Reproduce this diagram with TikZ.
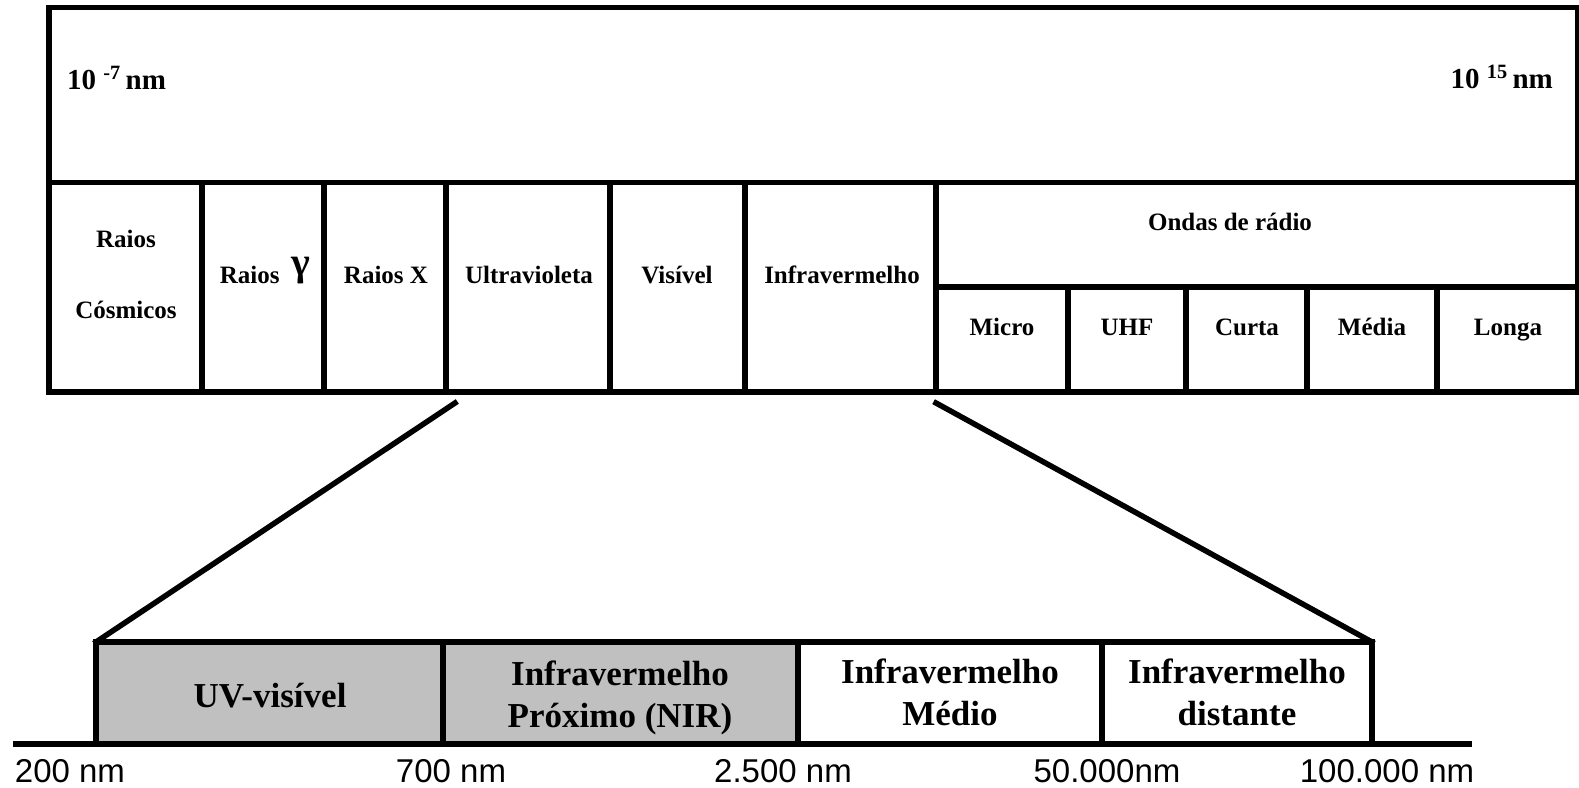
\documentclass[tikz,border=0pt]{standalone}
\usepackage{fontspec}
\setmainfont{Liberation Serif}
\newfontfamily\axisfont{Liberation Sans}
\usetikzlibrary{positioning}
\definecolor{nirgray}{RGB}{192,192,192}
\tikzset{
  frame/.style={
    line width = 5.5pt,
    line cap = rect
  },
  cell/.style={
    anchor = base,
    font = \bfseries\fontsize{25}{30}\selectfont,
    inner sep = 0pt
  },
  limit/.style={
    font = \bfseries\fontsize{29}{34}\selectfont,
    inner sep = 0pt
  },
  band/.style={
    anchor = base,
    font = \bfseries\fontsize{35}{42}\selectfont,
    inner sep = 0pt
  },
  tick/.style={
    anchor = base,
    font = \axisfont\fontsize{33}{40}\selectfont,
    inner sep = 0pt
  }
}

\begin{document}
\begin{tikzpicture}[x=1pt,y=-1pt]
    \useasboundingbox (0,0) rectangle (1579,787);
    \def\xl{49}
    \def\xr{1578}
    \def\ya{7.5}
    \def\yb{182.5}
    \def\yc{287}
    \def\yd{392}
    \def\yt{642}
    \def\yax{744}
    % spectrum table
        \draw[frame] (\xl,\ya) rectangle (\xr,\yd);
        \draw[frame] (\xl,\yb) -- (\xr,\yb);
        \draw[frame] (936,\yc) -- (\xr,\yc);
        \foreach \x in {202, 324, 446, 610, 745, 936}{
        \draw[frame] (\x,\yb) -- (\x,\yd);
        }
        \foreach \x in {1068, 1186, 1307, 1437}{
        \draw[frame] (\x,\yc) -- (\x,\yd);
        }
        \node[limit, anchor=base west] (lmin) at (67,89) {10 \textsuperscript{-7}\,nm};
        \node[limit, anchor=base east] (lmax) at (1553,88) {10 \textsuperscript{15}\,nm};
        \node[cell] (cos1) at (126,247) {Raios};
        \node[cell] (cos2) at (126,318) {Cósmicos};
        \node[cell] (gama) at (265,283) {Raios\hspace{12pt}\raisebox{8pt}{\fontsize{40}{40}\selectfont γ}};
        \foreach \x/\nm/\txt in {386/raiox/Raios X, 529/uv/Ultravioleta, 677/vis/Visível, 842/ir/Infravermelho}{
        \node[cell] (\nm) at (\x,283) {\txt};
        }
        \node[cell] (radio) at (1230,230) {Ondas de rádio};
        \foreach \x/\nm/\txt in {1002/micro/Micro, 1127/uhf/UHF, 1247/curta/Curta, 1372/media/Média, 1508/longa/Longa}{
        \node[cell] (\nm) at (\x,335) {\txt};
        }
    % zoom on the infrared region
        \coordinate (zl) at (455,403);
        \coordinate (zr) at (936,403);
        \coordinate (bl) at (96,\yt);
        \coordinate (br) at (1372,\yt);
        \fill[nirgray] (bl) rectangle (798,\yax);
        \draw[frame] (bl |- 0,\yax) -- (bl) -- (br) -- (br |- 0,\yax);
        \foreach \x in {443, 798, 1102}{
        \draw[frame] (\x,\yt) -- (\x,\yax);
        }
        \draw[frame] (zl) -- (bl);
        \draw[frame] (zr) -- (br);
        \draw[line width=6pt] (13,\yax) -- (1472,\yax);
        \node[band] (uvvis) at (270,707) {UV-visível};
        \node[band] (nir1) at (620,685) {Infravermelho};
        \node[band] (nir2) at (620,727) {Próximo (NIR)};
        \node[band] (mir1) at (950,683) {Infravermelho};
        \node[band] (mir2) at (950,725) {Médio};
        \node[band] (fir1) at (1237,683) {Infravermelho};
        \node[band] (fir2) at (1237,725) {distante};
        \foreach \x/\nm/\txt in {70/t200/200 nm, 451/t700/700 nm, 783/t2500/2.500 nm, 1107/t50k/50.000nm, 1387/t100k/100.000 nm}{
        \node[tick] (\nm) at (\x,782) {\txt};
        }
\end{tikzpicture}
\end{document}
